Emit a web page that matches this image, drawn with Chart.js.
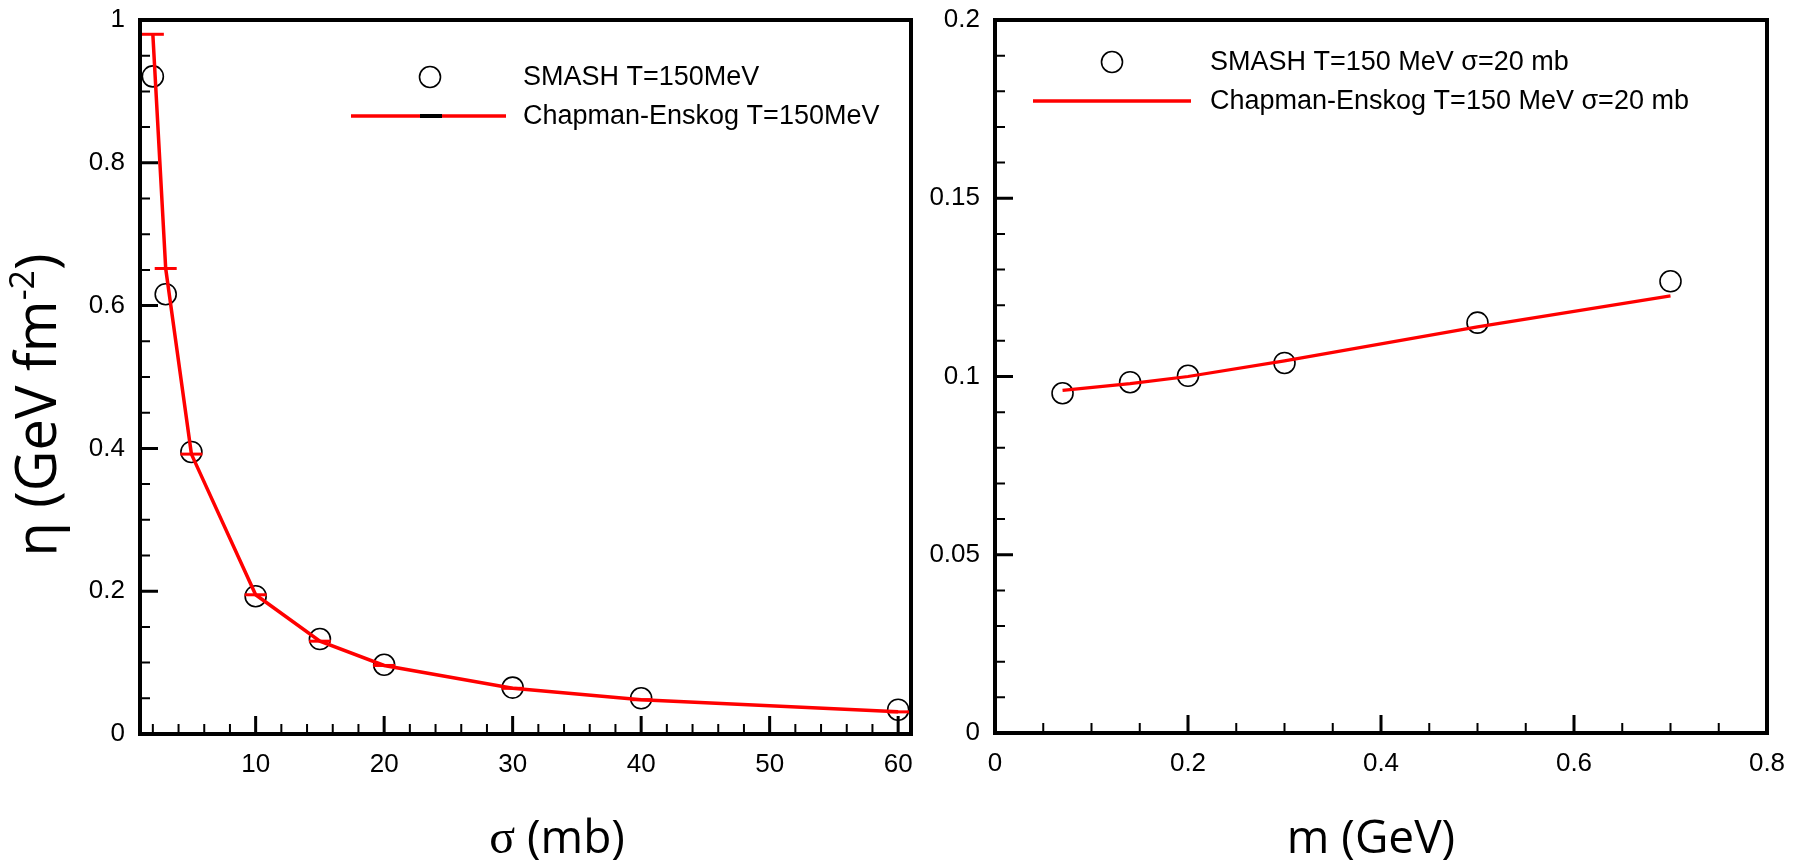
<!DOCTYPE html>
<html><head><meta charset="utf-8">
<script src="https://cdn.jsdelivr.net/npm/chart.js@4.4.1/dist/chart.umd.min.js"></script>
<style>
html,body{margin:0;padding:0;background:#fff;width:1803px;height:866px;overflow:hidden;}
#wl{position:absolute;left:0;top:0;width:930px;height:866px;}
#wr{position:absolute;left:920px;top:0;width:883px;height:866px;}
</style></head><body>
<div id="wl"><canvas id="cl" width="930" height="866"></canvas></div>
<div id="wr"><canvas id="cr" width="883" height="866"></canvas></div>
<script>
// ---- Left panel: eta vs cross section sigma (mb) ----
const sigma = [2, 3, 5, 10, 15, 20, 30, 40, 60];
const etaSmashSigma = [0.921, 0.616, 0.395, 0.193, 0.133, 0.097, 0.065, 0.050, 0.034];
const etaCESigma = [0.980, 0.652, 0.392, 0.195, 0.130, 0.096, 0.064, 0.048, 0.031];
// ---- Right panel: eta vs mass m (GeV) ----
const mass = [0.07, 0.14, 0.2, 0.3, 0.5, 0.7];
const etaSmashMass = [0.0953, 0.0984, 0.1002, 0.1038, 0.1151, 0.1267];
const etaCEMass = [0.0961, 0.0980, 0.1000, 0.1044, 0.1139, 0.1226];
// ---- Tick labels (major) and minor tick positions ----
const leftXTicks = [10, 20, 30, 40, 50, 60];
const leftYTicks = [0, 0.2, 0.4, 0.6, 0.8, 1];
const rightXTicks = [0, 0.2, 0.4, 0.6, 0.8];
const rightYTicks = [0, 0.05, 0.1, 0.15, 0.2];
const leftXMinor = [2,4,6,8,12,14,16,18,22,24,26,28,32,34,36,38,42,44,46,48,52,54,56,58];
const leftYMinor = [0.05,0.1,0.15,0.25,0.3,0.35,0.45,0.5,0.55,0.65,0.7,0.75,0.85,0.9,0.95];
const rightXMinor = [0.05,0.1,0.15,0.25,0.3,0.35,0.45,0.5,0.55,0.65,0.7,0.75];
const rightYMinor = [0.01,0.02,0.03,0.04,0.06,0.07,0.08,0.09,0.11,0.12,0.13,0.14,0.16,0.17,0.18,0.19];

const TICK_FONT = {family: '"Liberation Sans", Arial, Helvetica, sans-serif', size: 26};
Chart.defaults.font.family = '"Liberation Sans", Arial, sans-serif';
Chart.defaults.color = '#000';

const framePlugin = {
  id: 'frame',
  afterDatasetsDraw(chart, args, o) {
    const {ctx, chartArea: a} = chart;
    const x = chart.scales.x, y = chart.scales.y;
    ctx.save();
    ctx.strokeStyle = '#000';
    ctx.lineCap = 'butt';
    const drawTicks = (xs, ys, len, w) => {
      ctx.lineWidth = w;
      ctx.beginPath();
      xs.forEach(v => { const p = x.getPixelForValue(v); ctx.moveTo(p, a.bottom); ctx.lineTo(p, a.bottom - len); });
      ys.forEach(v => { const p = y.getPixelForValue(v); ctx.moveTo(a.left, p); ctx.lineTo(a.left + len, p); });
      ctx.stroke();
    };
    drawTicks(o.majorX, o.majorY, 18, 3);
    drawTicks(o.minorX, o.minorY, 10, 2);
    ctx.lineWidth = 4;
    ctx.strokeRect(a.left, a.top, a.right - a.left, a.bottom - a.top);
    ctx.restore();
  }
};

// draws axis titles made of text runs (each with its own font / raise), centred at (cx, cy)
const axisTitlePlugin = {
  id: 'axisTitles',
  afterDraw(chart, args, o) {
    const ctx = chart.ctx;
    (o.items || []).forEach(it => {
      ctx.save();
      ctx.fillStyle = '#000';
      ctx.textBaseline = 'middle';
      ctx.textAlign = 'left';
      ctx.translate(it.cx, it.cy);
      if (it.rotate) ctx.rotate(-Math.PI / 2);
      let total = 0;
      const widths = it.runs.map(r => { ctx.font = r.font; const w = ctx.measureText(r.text).width; total += w; return w; });
      let x = -total / 2;
      it.runs.forEach((r, i) => { ctx.font = r.font; ctx.fillText(r.text, x, -(r.raise || 0)); x += widths[i]; });
      ctx.restore();
    });
  }
};

const legendPlugin = {
  id: 'boxLegend',
  afterDraw(chart, args, o) {
    const ctx = chart.ctx;
    const ds = chart.data.datasets;
    ctx.save();
    ctx.font = '27px "Liberation Sans", Arial, sans-serif';
    ctx.fillStyle = '#000';
    ctx.textBaseline = 'middle';
    ctx.textAlign = 'left';
    ctx.strokeStyle = '#000';
    ctx.lineWidth = 1.6;
    ctx.beginPath();
    ctx.arc(o.circleX, o.row1, 10.5, 0, Math.PI * 2);
    ctx.stroke();
    ctx.fillText(ds[0].label, o.textX, o.row1 + 1);
    ctx.strokeStyle = ds[1].borderColor;
    ctx.lineWidth = 3.5;
    ctx.beginPath();
    ctx.moveTo(o.lineX1, o.row2);
    ctx.lineTo(o.lineX2, o.row2);
    ctx.stroke();
    if (o.dash) {
      ctx.strokeStyle = '#000';
      ctx.lineWidth = 4;
      ctx.beginPath();
      ctx.moveTo(o.dash[0], o.row2);
      ctx.lineTo(o.dash[1], o.row2);
      ctx.stroke();
    }
    ctx.fillText(ds[1].label, o.textX, o.row2 + 1);
    ctx.restore();
  }
};

function axis(min, max, tickVals, fitSize, isX) {
  return {
    type: 'linear', min: min, max: max,
    grid: {display: false, drawTicks: false},
    border: {display: false},
    afterBuildTicks: s => { s.ticks = tickVals.map(v => ({value: v})); },
    afterFit: s => {
      if (isX) { s.height = fitSize; } else { s.width = fitSize; }
      s.paddingLeft = 0; s.paddingRight = 0; s.paddingTop = 0; s.paddingBottom = 0;
    },
    ticks: {autoSkip: false, maxRotation: 0, minRotation: 0, padding: 15, color: '#000', font: TICK_FONT,
            callback: v => String(v)},
    title: {display: false}
  };
}

function pts(xs, ys) { return xs.map((v, i) => ({x: v, y: ys[i]})); }

const common = {
  responsive: false, animation: false, devicePixelRatio: 1,
  plugins: {legend: {display: false}, tooltip: {enabled: false}}
};
const OPEN = '46px "Open Sans", "DejaVu Sans", sans-serif';
const OPEN_Y = '56px "Open Sans", "DejaVu Sans", sans-serif';
const OPEN_SUP = '34px "Open Sans", "DejaVu Sans", sans-serif';
const SERIF = '48px "Liberation Serif", "DejaVu Serif", serif';

new Chart(document.getElementById('cl'), {
  type: 'scatter',
  data: {datasets: [
    {label: 'SMASH T=150MeV', data: pts(sigma, etaSmashSigma), showLine: false,
     pointStyle: 'circle', pointRadius: 10.5, pointBorderWidth: 1.6, pointBorderColor: '#000',
     pointBackgroundColor: 'rgba(0,0,0,0)', order: 2, clip: false},
    {label: 'Chapman-Enskog T=150MeV', data: pts(sigma, etaCESigma), showLine: true,
     borderColor: '#ff0000', borderWidth: 3.5, tension: 0, fill: false,
     pointStyle: 'line', pointRadius: 11, pointBorderWidth: 3, pointBorderColor: '#ff0000',
     order: 1, clip: false}
  ]},
  options: Object.assign({}, common, {
    layout: {padding: {top: 20, right: 19, bottom: 0, left: 0}},
    scales: {
      x: axis(1, 61, leftXTicks, 132, true),
      y: axis(0, 1, leftYTicks, 140, false)
    },
    plugins: Object.assign({}, common.plugins, {
      frame: {majorX: leftXTicks, majorY: leftYTicks, minorX: leftXMinor, minorY: leftYMinor},
      boxLegend: {circleX: 430, row1: 77, row2: 116, lineX1: 351, lineX2: 506, dash: [420, 442], textX: 523},
      axisTitles: {items: [
        {cx: 557, cy: 840, runs: [{text: 'σ', font: SERIF}, {text: ' (mb)', font: OPEN}]},
        {cx: 40, cy: 405, rotate: true, runs: [
          {text: 'η (GeV fm', font: OPEN_Y},
          {text: '-2', font: OPEN_SUP, raise: 16},
          {text: ')', font: OPEN_Y}]}
      ]}
    })
  }),
  plugins: [framePlugin, legendPlugin, axisTitlePlugin]
});

new Chart(document.getElementById('cr'), {
  type: 'scatter',
  data: {datasets: [
    {label: 'SMASH T=150 MeV σ=20 mb', data: pts(mass, etaSmashMass), showLine: false,
     pointStyle: 'circle', pointRadius: 10.5, pointBorderWidth: 1.6, pointBorderColor: '#000',
     pointBackgroundColor: 'rgba(0,0,0,0)', order: 2, clip: false},
    {label: 'Chapman-Enskog T=150 MeV σ=20 mb', data: pts(mass, etaCEMass), showLine: true,
     borderColor: '#ff0000', borderWidth: 3.2, tension: 0, fill: false, pointRadius: 0,
     order: 1, clip: false}
  ]},
  options: Object.assign({}, common, {
    layout: {padding: {top: 20, right: 36, bottom: 0, left: 0}},
    scales: {
      x: axis(0, 0.8, rightXTicks, 133, true),
      y: axis(0, 0.2, rightYTicks, 75, false)
    },
    plugins: Object.assign({}, common.plugins, {
      frame: {majorX: rightXTicks, majorY: rightYTicks, minorX: rightXMinor, minorY: rightYMinor},
      boxLegend: {circleX: 192, row1: 62, row2: 101, lineX1: 113, lineX2: 271, dash: null, textX: 290},
      axisTitles: {items: [
        {cx: 451, cy: 840, runs: [{text: 'm (GeV)', font: OPEN}]}
      ]}
    })
  }),
  plugins: [framePlugin, legendPlugin, axisTitlePlugin]
});
</script>
</body></html>
